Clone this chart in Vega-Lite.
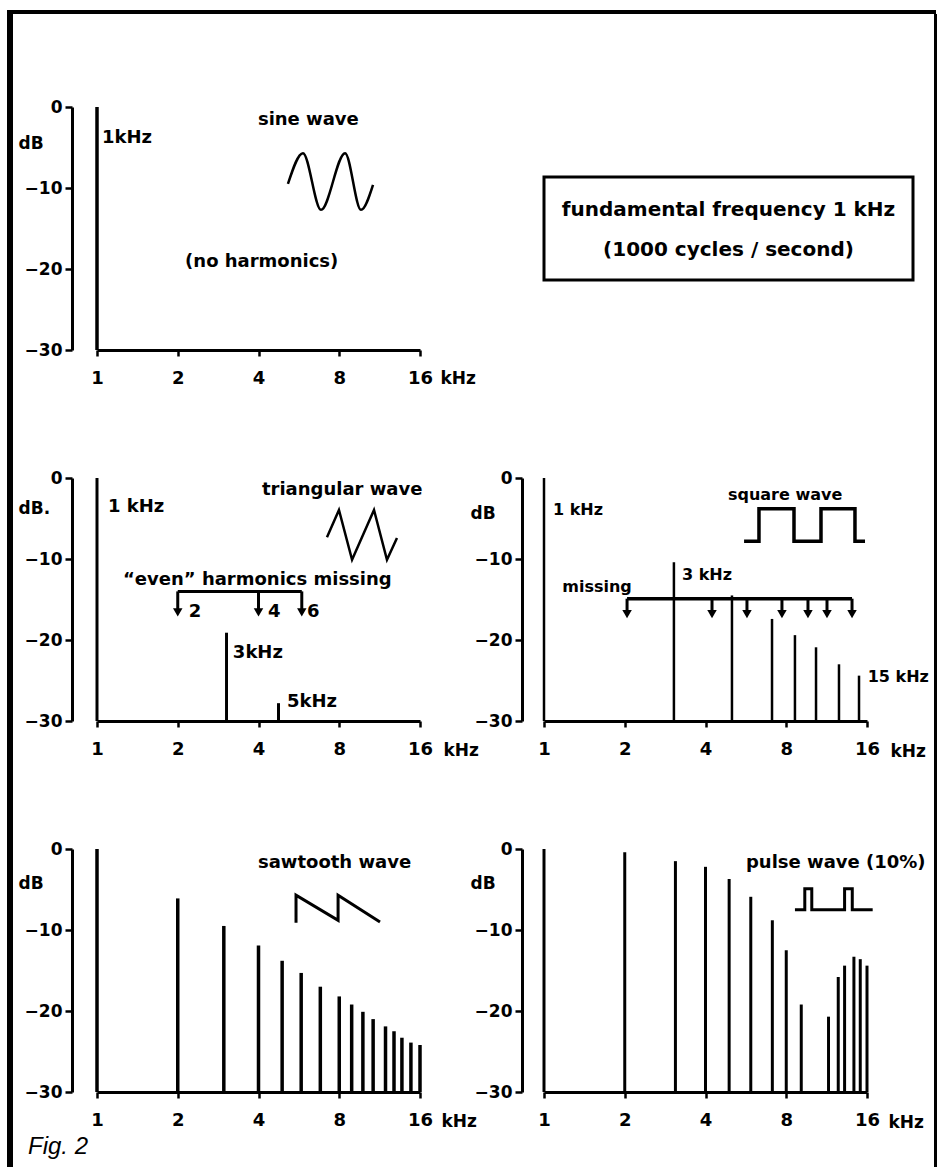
{
  "$schema": "https://vega.github.io/schema/vega-lite/v6.json",
  "background": "white",
  "padding": {"left": 7, "top": 10, "right": 3, "bottom": 0},
  "datasets": {
    "spectrum": [
      {"panel": "sine", "f": 1, "db": 0},
      {"panel": "tri", "f": 1, "db": 0},
      {"panel": "tri", "f": 3.04, "db": -19.1},
      {"panel": "tri", "f": 4.75, "db": -27.8},
      {"panel": "square", "f": 1, "db": 0},
      {"panel": "square", "f": 3.05, "db": -10.4},
      {"panel": "square", "f": 5.02, "db": -14.5},
      {"panel": "square", "f": 7.08, "db": -17.4},
      {"panel": "square", "f": 8.62, "db": -19.4},
      {"panel": "square", "f": 10.33, "db": -20.9},
      {"panel": "square", "f": 12.58, "db": -23.0},
      {"panel": "square", "f": 14.94, "db": -24.4},
      {"panel": "saw", "f": 1, "db": 0},
      {"panel": "saw", "f": 2, "db": -6.1},
      {"panel": "saw", "f": 2.97, "db": -9.5},
      {"panel": "saw", "f": 4, "db": -11.9},
      {"panel": "saw", "f": 4.9, "db": -13.8},
      {"panel": "saw", "f": 5.77, "db": -15.3},
      {"panel": "saw", "f": 6.8, "db": -17.0},
      {"panel": "saw", "f": 8, "db": -18.2},
      {"panel": "saw", "f": 8.9, "db": -19.2},
      {"panel": "saw", "f": 9.8, "db": -20.1},
      {"panel": "saw", "f": 10.7, "db": -21.0},
      {"panel": "saw", "f": 11.9, "db": -21.9},
      {"panel": "saw", "f": 12.8, "db": -22.5},
      {"panel": "saw", "f": 13.7, "db": -23.3},
      {"panel": "saw", "f": 14.8, "db": -23.9},
      {"panel": "saw", "f": 16, "db": -24.2},
      {"panel": "pulse", "f": 1, "db": 0},
      {"panel": "pulse", "f": 2, "db": -0.4},
      {"panel": "pulse", "f": 3.09, "db": -1.5},
      {"panel": "pulse", "f": 4, "db": -2.2},
      {"panel": "pulse", "f": 4.9, "db": -3.7},
      {"panel": "pulse", "f": 5.9, "db": -5.9},
      {"panel": "pulse", "f": 7.1, "db": -8.8},
      {"panel": "pulse", "f": 8, "db": -12.5},
      {"panel": "pulse", "f": 9.1, "db": -19.2},
      {"panel": "pulse", "f": 11.5, "db": -20.7},
      {"panel": "pulse", "f": 12.5, "db": -15.8},
      {"panel": "pulse", "f": 13.2, "db": -14.4},
      {"panel": "pulse", "f": 14.3, "db": -13.3},
      {"panel": "pulse", "f": 15.1, "db": -13.6},
      {"panel": "pulse", "f": 16, "db": -14.4}
    ],
    "labels": [
      {"panel": "sine", "f": 1.044, "db": -3.8, "text": "1kHz"},
      {"panel": "sine", "f": 3.98, "db": -1.6, "text": "sine wave"},
      {"panel": "sine", "f": 2.13, "db": -19.1, "text": "(no harmonics)"},
      {"panel": "tri", "f": 1.099, "db": -3.6, "text": "1 kHz"},
      {"panel": "tri", "f": 4.12, "db": -1.5, "text": "triangular wave"},
      {"panel": "tri", "f": 1.25, "db": -12.6, "text": "“even” harmonics missing"},
      {"panel": "tri", "f": 2.2, "db": -16.5, "text": "2"},
      {"panel": "tri", "f": 4.34, "db": -16.5, "text": "4"},
      {"panel": "tri", "f": 6.07, "db": -16.5, "text": "6"},
      {"panel": "tri", "f": 3.21, "db": -21.6, "text": "3kHz"},
      {"panel": "tri", "f": 5.11, "db": -27.7, "text": "5kHz"},
      {"panel": "square", "f": 1.08, "db": -3.95, "text": "1 kHz"},
      {"panel": "square", "f": 4.85, "db": -2.1, "text": "square wave"},
      {"panel": "square", "f": 1.17, "db": -13.5, "text": "missing"},
      {"panel": "square", "f": 3.27, "db": -12.0, "text": "3 kHz"},
      {"panel": "square", "f": 16.1, "db": -24.6, "text": "15 kHz"},
      {"panel": "saw", "f": 3.98, "db": -1.7, "text": "sawtooth wave"},
      {"panel": "pulse", "f": 5.66, "db": -1.7, "text": "pulse wave (10%)"}
    ],
    "icons": [
      {"panel": "sine", "i": 1, "f": 5.15, "db": -9.5},
      {"panel": "sine", "i": 2, "f": 5.86, "db": -5.7},
      {"panel": "sine", "i": 3, "f": 6.84, "db": -12.7},
      {"panel": "sine", "i": 4, "f": 8.41, "db": -5.7},
      {"panel": "sine", "i": 5, "f": 9.64, "db": -12.7},
      {"panel": "sine", "i": 6, "f": 10.69, "db": -9.6},
      {"panel": "tri", "i": 1, "f": 7.2, "db": -7.3},
      {"panel": "tri", "i": 2, "f": 7.98, "db": -3.95},
      {"panel": "tri", "i": 3, "f": 8.93, "db": -10.1},
      {"panel": "tri", "i": 4, "f": 10.78, "db": -3.95},
      {"panel": "tri", "i": 5, "f": 12.05, "db": -10.1},
      {"panel": "tri", "i": 6, "f": 13.13, "db": -7.4},
      {"panel": "square", "i": 1, "f": 5.57, "db": -7.8},
      {"panel": "square", "i": 2, "f": 6.33, "db": -7.8},
      {"panel": "square", "i": 3, "f": 6.33, "db": -3.8},
      {"panel": "square", "i": 4, "f": 8.55, "db": -3.8},
      {"panel": "square", "i": 5, "f": 8.55, "db": -7.8},
      {"panel": "square", "i": 6, "f": 10.78, "db": -7.8},
      {"panel": "square", "i": 7, "f": 10.78, "db": -3.8},
      {"panel": "square", "i": 8, "f": 14.43, "db": -3.8},
      {"panel": "square", "i": 9, "f": 14.43, "db": -7.8},
      {"panel": "square", "i": 10, "f": 15.73, "db": -7.8},
      {"panel": "saw", "i": 1, "f": 5.52, "db": -9.1},
      {"panel": "saw", "i": 2, "f": 5.52, "db": -5.7},
      {"panel": "saw", "i": 3, "f": 7.92, "db": -8.8},
      {"panel": "saw", "i": 4, "f": 7.92, "db": -5.7},
      {"panel": "saw", "i": 5, "f": 11.35, "db": -9.0},
      {"panel": "pulse", "i": 1, "f": 8.62, "db": -7.5},
      {"panel": "pulse", "i": 2, "f": 9.38, "db": -7.5},
      {"panel": "pulse", "i": 3, "f": 9.38, "db": -4.9},
      {"panel": "pulse", "i": 4, "f": 9.96, "db": -4.9},
      {"panel": "pulse", "i": 5, "f": 9.96, "db": -7.5},
      {"panel": "pulse", "i": 6, "f": 13.2, "db": -7.5},
      {"panel": "pulse", "i": 7, "f": 13.2, "db": -4.9},
      {"panel": "pulse", "i": 8, "f": 14.1, "db": -4.9},
      {"panel": "pulse", "i": 9, "f": 14.1, "db": -7.5},
      {"panel": "pulse", "i": 10, "f": 16.8, "db": -7.5}
    ],
    "arrows": [
      {"panel": "tri", "f": 2, "db": -14.0, "db2": -16.6},
      {"panel": "tri", "f": 4, "db": -14.0, "db2": -16.6},
      {"panel": "tri", "f": 5.8, "db": -14.0, "db2": -16.6},
      {"panel": "square", "f": 2.04, "db": -14.9, "db2": -16.8},
      {"panel": "square", "f": 4.23, "db": -14.9, "db2": -16.8},
      {"panel": "square", "f": 5.71, "db": -14.9, "db2": -16.8},
      {"panel": "square", "f": 7.71, "db": -14.9, "db2": -16.8},
      {"panel": "square", "f": 9.64, "db": -14.9, "db2": -16.8},
      {"panel": "square", "f": 11.35, "db": -14.9, "db2": -16.8},
      {"panel": "square", "f": 14.07, "db": -14.9, "db2": -16.8}
    ],
    "heads": [
      {"panel": "tri", "f": 2, "db": -16.6},
      {"panel": "tri", "f": 4, "db": -16.6},
      {"panel": "tri", "f": 5.8, "db": -16.6},
      {"panel": "square", "f": 2.04, "db": -16.8},
      {"panel": "square", "f": 4.23, "db": -16.8},
      {"panel": "square", "f": 5.71, "db": -16.8},
      {"panel": "square", "f": 7.71, "db": -16.8},
      {"panel": "square", "f": 9.64, "db": -16.8},
      {"panel": "square", "f": 11.35, "db": -16.8},
      {"panel": "square", "f": 14.07, "db": -16.8}
    ],
    "brackets": [
      {"panel": "tri", "f": 2, "f2": 5.8, "db": -14.0},
      {"panel": "square", "f": 2.04, "f2": 14.07, "db": -14.9}
    ],
    "caption": [
      {"caption": "fundamental frequency 1 kHz\n(1000 cycles / second)"}
    ],
    "blank": []
  },
  "config": {
    "view": {"stroke": null},
    "font": "DejaVu Sans",
    "axis": {
      "domainColor": "black", "domainWidth": 3, "tickColor": "black", "tickWidth": 2.5,
      "labelColor": "black", "labelFont": "DejaVu Sans", "labelFontWeight": "bold",
      "titleColor": "black", "titleFont": "DejaVu Sans", "titleFontWeight": "bold", "titleFontSize": 17,
      "grid": false, "labelFlush": false, "labelOverlap": false,
      "titleAngle": 0, "titleAlign": "left", "titleBaseline": "middle"
    },
    "axisX": {"tickSize": 6, "labelPadding": 13, "labelFontSize": 18},
    "axisY": {"tickSize": 7, "labelPadding": 3, "labelFontSize": 17},
    "text": {"font": "DejaVu Sans", "fontWeight": "bold", "fontSize": 18, "color": "black", "align": "left", "baseline": "middle"},
    "rule": {"color": "black"},
    "line": {"color": "black", "strokeWidth": 2.5},
    "point": {"color": "black", "filled": true, "opacity": 1}
  },
  "spacing": 0,
  "vconcat": [
    {
      "width": 929, "height": 4,
      "view": {"fill": "black", "stroke": null},
      "data": {"name": "blank"},
      "mark": {"type": "text", "text": ""}
    },
    {
      "spacing": 5,
      "hconcat": [
        {
          "width": 6, "height": 1153,
          "view": {"fill": "black", "stroke": null},
          "data": {"name": "blank"},
          "mark": {"type": "text", "text": ""}
        },
        {
          "spacing": 83,
          "vconcat": [
            {
              "width": 1, "height": 1,
              "data": {"name": "blank"},
              "mark": {"type": "text", "text": ""}
            },
            {
              "columns": 2,
              "bounds": "flush",
              "spacing": {"row": 128, "column": 124},
              "center": {"row": true},
              "concat": [
                {
                  "width": 323, "height": 243,
                  "encoding": {
                    "x": {"field": "f", "type": "quantitative", "scale": {"type": "log", "base": 2, "domain": [1, 16], "nice": false},
                          "axis": {"values": [1, 2, 4, 8, 16], "format": "d", "title": "kHz", "titleX": 343, "titleY": 28}},
                    "y": {"field": "db", "type": "quantitative", "scale": {"domain": [-30, 0], "nice": false, "zero": false},
                          "axis": {"values": [0, -10, -20, -30], "format": "d", "title": "dB", "offset": 25, "titleX": -54, "titleY": 36}}
                  },
                  "layer": [
                    {"data": {"name": "spectrum"}, "transform": [{"filter": "datum.panel === 'sine'"}],
                     "mark": {"type": "rule", "strokeWidth": 3.5}, "encoding": {"y2": {"datum": -30}}},
                    {"data": {"name": "labels"}, "transform": [{"filter": "datum.panel === 'sine'"}],
                     "mark": {"type": "text"}, "encoding": {"text": {"field": "text"}}},
                    {"data": {"name": "icons"}, "transform": [{"filter": "datum.panel === 'sine'"}],
                     "mark": {"type": "line", "interpolate": "monotone"}, "encoding": {"order": {"field": "i"}}}
                  ]
                },
                {
                  "width": 369, "height": 103,
                  "view": {"stroke": "black", "strokeWidth": 3},
                  "data": {"name": "caption"},
                  "mark": {"type": "text", "align": "center", "baseline": "middle", "lineBreak": "\n", "lineHeight": 40, "fontSize": 20, "dy": -19},
                  "encoding": {"text": {"field": "caption"}}
                },
                {
                  "width": 323, "height": 243,
                  "encoding": {
                    "x": {"field": "f", "type": "quantitative", "scale": {"type": "log", "base": 2, "domain": [1, 16], "nice": false},
                          "axis": {"values": [1, 2, 4, 8, 16], "format": "d", "title": "kHz", "titleX": 346, "titleY": 29}},
                    "y": {"field": "db", "type": "quantitative", "scale": {"domain": [-30, 0], "nice": false, "zero": false},
                          "axis": {"values": [0, -10, -20, -30], "format": "d", "title": "dB.", "offset": 25, "titleX": -54, "titleY": 30}}
                  },
                  "layer": [
                    {"data": {"name": "spectrum"}, "transform": [{"filter": "datum.panel === 'tri'"}],
                     "mark": {"type": "rule", "strokeWidth": 3}, "encoding": {"y2": {"datum": -30}}},
                    {"data": {"name": "brackets"}, "transform": [{"filter": "datum.panel === 'tri'"}],
                     "mark": {"type": "rule", "strokeWidth": 3}, "encoding": {"x2": {"field": "f2"}}},
                    {"data": {"name": "arrows"}, "transform": [{"filter": "datum.panel === 'tri'"}],
                     "mark": {"type": "rule", "strokeWidth": 3}, "encoding": {"y2": {"field": "db2"}}},
                    {"data": {"name": "heads"}, "transform": [{"filter": "datum.panel === 'tri'"}],
                     "mark": {"type": "point", "shape": "triangle-down", "size": 90}},
                    {"data": {"name": "labels"}, "transform": [{"filter": "datum.panel === 'tri'"}],
                     "mark": {"type": "text"}, "encoding": {"text": {"field": "text"}}},
                    {"data": {"name": "icons"}, "transform": [{"filter": "datum.panel === 'tri'"}],
                     "mark": {"type": "line"}, "encoding": {"order": {"field": "i"}}}
                  ]
                },
                {
                  "width": 323, "height": 243,
                  "encoding": {
                    "x": {"field": "f", "type": "quantitative", "scale": {"type": "log", "base": 2, "domain": [1, 16], "nice": false},
                          "axis": {"values": [1, 2, 4, 8, 16], "format": "d", "title": "kHz", "titleX": 346, "titleY": 30}},
                    "y": {"field": "db", "type": "quantitative", "scale": {"domain": [-30, 0], "nice": false, "zero": false},
                          "axis": {"values": [0, -10, -20, -30], "format": "d", "title": "dB", "offset": 22, "titleX": -52, "titleY": 35}}
                  },
                  "layer": [
                    {"data": {"name": "spectrum"}, "transform": [{"filter": "datum.panel === 'square'"}],
                     "mark": {"type": "rule", "strokeWidth": 2.5}, "encoding": {"y2": {"datum": -30}}},
                    {"data": {"name": "brackets"}, "transform": [{"filter": "datum.panel === 'square'"}],
                     "mark": {"type": "rule", "strokeWidth": 3.5}, "encoding": {"x2": {"field": "f2"}}},
                    {"data": {"name": "arrows"}, "transform": [{"filter": "datum.panel === 'square'"}],
                     "mark": {"type": "rule", "strokeWidth": 3}, "encoding": {"y2": {"field": "db2"}}},
                    {"data": {"name": "heads"}, "transform": [{"filter": "datum.panel === 'square'"}],
                     "mark": {"type": "point", "shape": "triangle-down", "size": 90}},
                    {"data": {"name": "labels"}, "transform": [{"filter": "datum.panel === 'square'"}],
                     "mark": {"type": "text", "fontSize": 16}, "encoding": {"text": {"field": "text"}}},
                    {"data": {"name": "icons"}, "transform": [{"filter": "datum.panel === 'square'"}],
                     "mark": {"type": "line", "strokeWidth": 3.5}, "encoding": {"order": {"field": "i"}}}
                  ]
                },
                {
                  "width": 323, "height": 243,
                  "title": {"text": "Fig. 2", "orient": "bottom", "anchor": "start", "frame": "bounds", "font": "Liberation Sans",
                            "fontSize": 24, "fontStyle": "italic", "fontWeight": "normal", "color": "black", "dx": 10, "offset": 6},
                  "encoding": {
                    "x": {"field": "f", "type": "quantitative", "scale": {"type": "log", "base": 2, "domain": [1, 16], "nice": false},
                          "axis": {"values": [1, 2, 4, 8, 16], "format": "d", "title": "kHz", "titleX": 344, "titleY": 29}},
                    "y": {"field": "db", "type": "quantitative", "scale": {"domain": [-30, 0], "nice": false, "zero": false},
                          "axis": {"values": [0, -10, -20, -30], "format": "d", "title": "dB", "offset": 25, "titleX": -54, "titleY": 34}}
                  },
                  "layer": [
                    {"data": {"name": "spectrum"}, "transform": [{"filter": "datum.panel === 'saw'"}],
                     "mark": {"type": "rule", "strokeWidth": 3.5}, "encoding": {"y2": {"datum": -30}}},
                    {"data": {"name": "labels"}, "transform": [{"filter": "datum.panel === 'saw'"}],
                     "mark": {"type": "text"}, "encoding": {"text": {"field": "text"}}},
                    {"data": {"name": "icons"}, "transform": [{"filter": "datum.panel === 'saw'"}],
                     "mark": {"type": "line", "strokeWidth": 3}, "encoding": {"order": {"field": "i"}}}
                  ]
                },
                {
                  "width": 323, "height": 243,
                  "encoding": {
                    "x": {"field": "f", "type": "quantitative", "scale": {"type": "log", "base": 2, "domain": [1, 16], "nice": false},
                          "axis": {"values": [1, 2, 4, 8, 16], "format": "d", "title": "kHz", "titleX": 344, "titleY": 30}},
                    "y": {"field": "db", "type": "quantitative", "scale": {"domain": [-30, 0], "nice": false, "zero": false},
                          "axis": {"values": [0, -10, -20, -30], "format": "d", "title": "dB", "offset": 22, "titleX": -52, "titleY": 34}}
                  },
                  "layer": [
                    {"data": {"name": "spectrum"}, "transform": [{"filter": "datum.panel === 'pulse'"}],
                     "mark": {"type": "rule", "strokeWidth": 3}, "encoding": {"y2": {"datum": -30}}},
                    {"data": {"name": "labels"}, "transform": [{"filter": "datum.panel === 'pulse'"}],
                     "mark": {"type": "text"}, "encoding": {"text": {"field": "text"}}},
                    {"data": {"name": "icons"}, "transform": [{"filter": "datum.panel === 'pulse'"}],
                     "mark": {"type": "line", "strokeWidth": 3}, "encoding": {"order": {"field": "i"}}}
                  ]
                }
              ]
            }
          ]
        },
        {
          "width": 3, "height": 1153,
          "view": {"fill": "black", "stroke": null},
          "data": {"name": "blank"},
          "mark": {"type": "text", "text": ""}
        }
      ]
    }
  ]
}
